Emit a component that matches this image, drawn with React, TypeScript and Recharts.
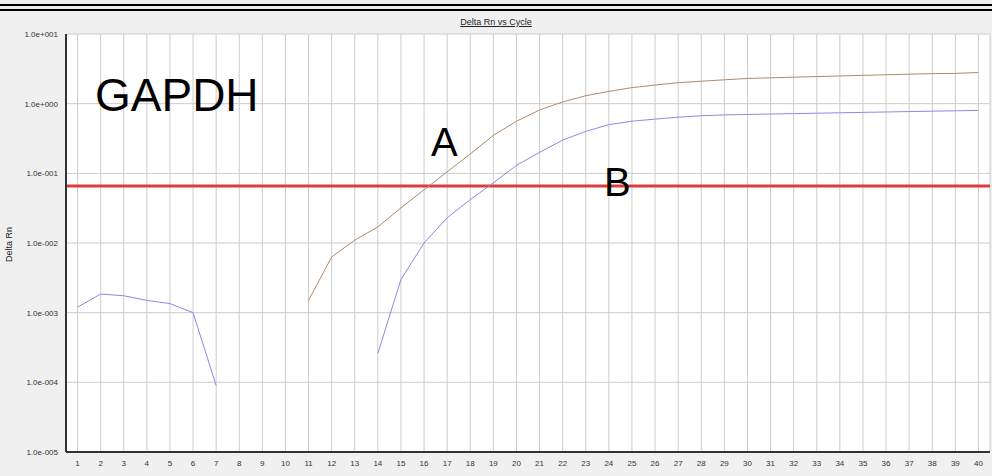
import { LineChart, Line, XAxis, YAxis, CartesianGrid, ReferenceLine } from "recharts";

const cycles = Array.from({ length: 40 }, (_, i) => i + 1);

// Delta Rn, sample A (brown); null where nothing is drawn
const seriesA: (number | null)[] = [
  null, null, null, null, null, null, null, null, null, null,
  0.0015, 0.0063, 0.011, 0.017, 0.032, 0.058, 0.105, 0.19, 0.35, 0.56,
  0.81, 1.06, 1.3, 1.5, 1.7, 1.85, 2.0, 2.1, 2.2, 2.3,
  2.35, 2.4, 2.45, 2.5, 2.55, 2.6, 2.65, 2.7, 2.72, 2.8,
];

// Delta Rn, sample B (blue)
const seriesB: (number | null)[] = [
  0.0012, 0.00185, 0.00175, 0.0015, 0.00135, 0.001, 0.00009, null, null, null,
  null, null, null, 0.00026, 0.003, 0.01, 0.023, 0.042, 0.073, 0.13,
  0.2, 0.3, 0.4, 0.5, 0.56, 0.6, 0.64, 0.67, 0.69, 0.7,
  0.71, 0.72, 0.73, 0.74, 0.75, 0.76, 0.77, 0.78, 0.79, 0.8,
];

const threshold = 0.066;
const yTicks = [1e-5, 1e-4, 1e-3, 1e-2, 1e-1, 1, 10];

const data = cycles.map((c, i) => ({ cycle: c, a: seriesA[i], b: seriesB[i] }));

const fmt = (v: number) => {
  const e = Math.round(Math.log10(v));
  const s = e < 0 ? "-" : "+";
  return `1.0e${s}${String(Math.abs(e)).padStart(3, "0")}`;
};

const label = (text: string, left: number, top: number, size: number) => (
  <div
    style={{
      position: "absolute",
      left,
      top,
      fontSize: size,
      fontFamily: "Arial, 'Liberation Sans', sans-serif",
      lineHeight: 1,
      color: "#000",
    }}
  >
    {text}
  </div>
);

export default function App() {
  return (
    <div style={{ position: "relative", width: 992, height: 476, background: "#f0f0f0", fontFamily: "Arial, 'Liberation Sans', sans-serif" }}>
      <style>{"body{margin:0}"}</style>
      <div style={{ position: "absolute", left: 0, top: 4, width: 992, height: 2, background: "#000" }} />
      <div style={{ position: "absolute", left: 0, top: 9, width: 992, height: 2, background: "#000" }} />
      <div style={{ position: "absolute", left: 0, top: 17, width: 992, textAlign: "center", fontSize: 9, textDecoration: "underline", color: "#222" }}>
        Delta Rn vs Cycle
      </div>
      <div style={{ position: "absolute", left: 4, top: 262, fontSize: 9, color: "#222", transform: "rotate(-90deg)", transformOrigin: "0 0" }}>
        Delta Rn
      </div>
      <LineChart width={992} height={476} data={data} margin={{ top: 34, right: 2, bottom: 0, left: 0 }}>
        <CartesianGrid fill="#fff" stroke="#cccccc" />
        <XAxis
          dataKey="cycle"
          type="number"
          domain={[0.5, 40.5]}
          ticks={cycles}
          interval={0}
          tickLine={false}
          axisLine={{ stroke: "#333", strokeWidth: 2 }}
          tick={{ fontSize: 8, fill: "#333" }}
          height={24}
        />
        <YAxis
          scale="log"
          domain={[1e-5, 10]}
          ticks={yTicks}
          allowDataOverflow
          tickFormatter={fmt}
          tickLine={false}
          axisLine={{ stroke: "#333", strokeWidth: 2 }}
          tick={{ fontSize: 8, fill: "#333" }}
          width={66}
        />
        <ReferenceLine y={threshold} stroke="#e03a3a" strokeWidth={3} />
        <Line dataKey="a" stroke="#b08a6a" strokeWidth={1} dot={false} isAnimationActive={false} connectNulls={false} />
        <Line dataKey="b" stroke="#8a8ae6" strokeWidth={1} dot={false} isAnimationActive={false} connectNulls={false} />
      </LineChart>
      {label("GAPDH", 95, 72, 46)}
      {label("A", 431, 122, 40)}
      {label("B", 604, 162, 40)}
    </div>
  );
}
